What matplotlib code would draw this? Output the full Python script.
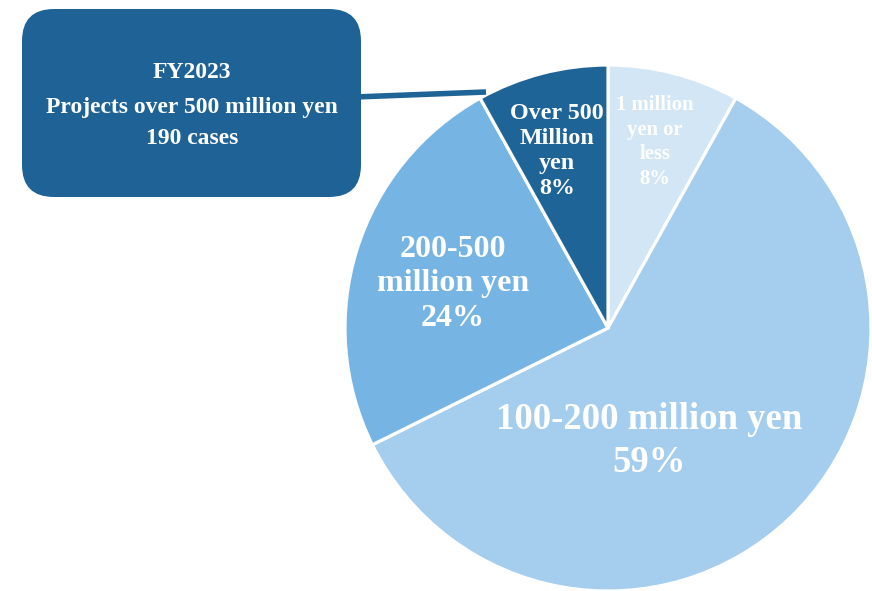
import matplotlib as mpl
mpl.use('Agg')
import matplotlib.pyplot as plt
from matplotlib.patches import FancyBboxPatch

plt.rcParams['font.family'] = ['Liberation Serif', 'DejaVu Serif']
plt.rcParams['font.weight'] = 'bold'

# share of projects by contract size, clockwise from the top
categories = ['1 million\nyen or\nless', '100-200 million yen', '200-500\nmillion yen', 'Over 500\nMillion\nyen']
shares = [8, 59, 24, 8]
colors = ['#d3e6f5', '#a4cdee', '#75b4e3', '#1f6497']
box_lines = ['FY2023', 'Projects over 500 million yen', '190 cases']

W, H = 872, 591
fig = plt.figure(figsize=(W / 100, H / 100), dpi=100)

# pie axes: centre at (608, 328) px, radius 263 px
cx, cy, r = 608, 328, 263
ax = fig.add_axes([(cx - r) / W, (H - cy - r) / H, 2 * r / W, 2 * r / H])
wedges, _ = ax.pie(shares, colors=colors, startangle=90, counterclock=False,
                   radius=1, wedgeprops=dict(edgecolor='white', linewidth=2.3))
for w in wedges:
    w.set_clip_on(False)
ax.set_xlim(-1, 1)
ax.set_ylim(-1, 1)
ax.axis('off')

def px(x, y):
    return (x - cx) / r, (cy - y) / r

# slice labels: pixel anchor, font size, line spacing
label_spec = [
    (px(655, 142), 14.9, 1.30),
    (px(649, 441), 26.5, 1.30),
    (px(453, 284), 23, 1.27),
    (px(557, 151), 17.3, 1.25),
]
for name, pct, (pos, fs, ls) in zip(categories, shares, label_spec):
    ax.text(pos[0], pos[1], f'{name}\n{pct}%', ha='center', va='center',
            fontsize=fs, color='white', fontweight='bold', linespacing=ls)

# overlay in pixel coordinates for the callout
ov = fig.add_axes([0, 0, 1, 1])
ov.set_xlim(0, W)
ov.set_ylim(H, 0)
ov.axis('off')
ov.patch.set_alpha(0)

ov.plot([355, 486], [97, 92], color='#1f6497', lw=4, solid_capstyle='butt', zorder=1)
box = FancyBboxPatch((22 + 32, 9 + 32), 339 - 64, 188 - 64,
                     boxstyle='round,pad=32', facecolor='#1f6396',
                     edgecolor='none', zorder=2)
ov.add_patch(box)
for txt, y in zip(box_lines, [72, 108, 138]):
    ov.text(192, y, txt, ha='center', va='center', fontsize=17,
            color='white', fontweight='bold', zorder=3)

fig.savefig('out.png', dpi=100)
